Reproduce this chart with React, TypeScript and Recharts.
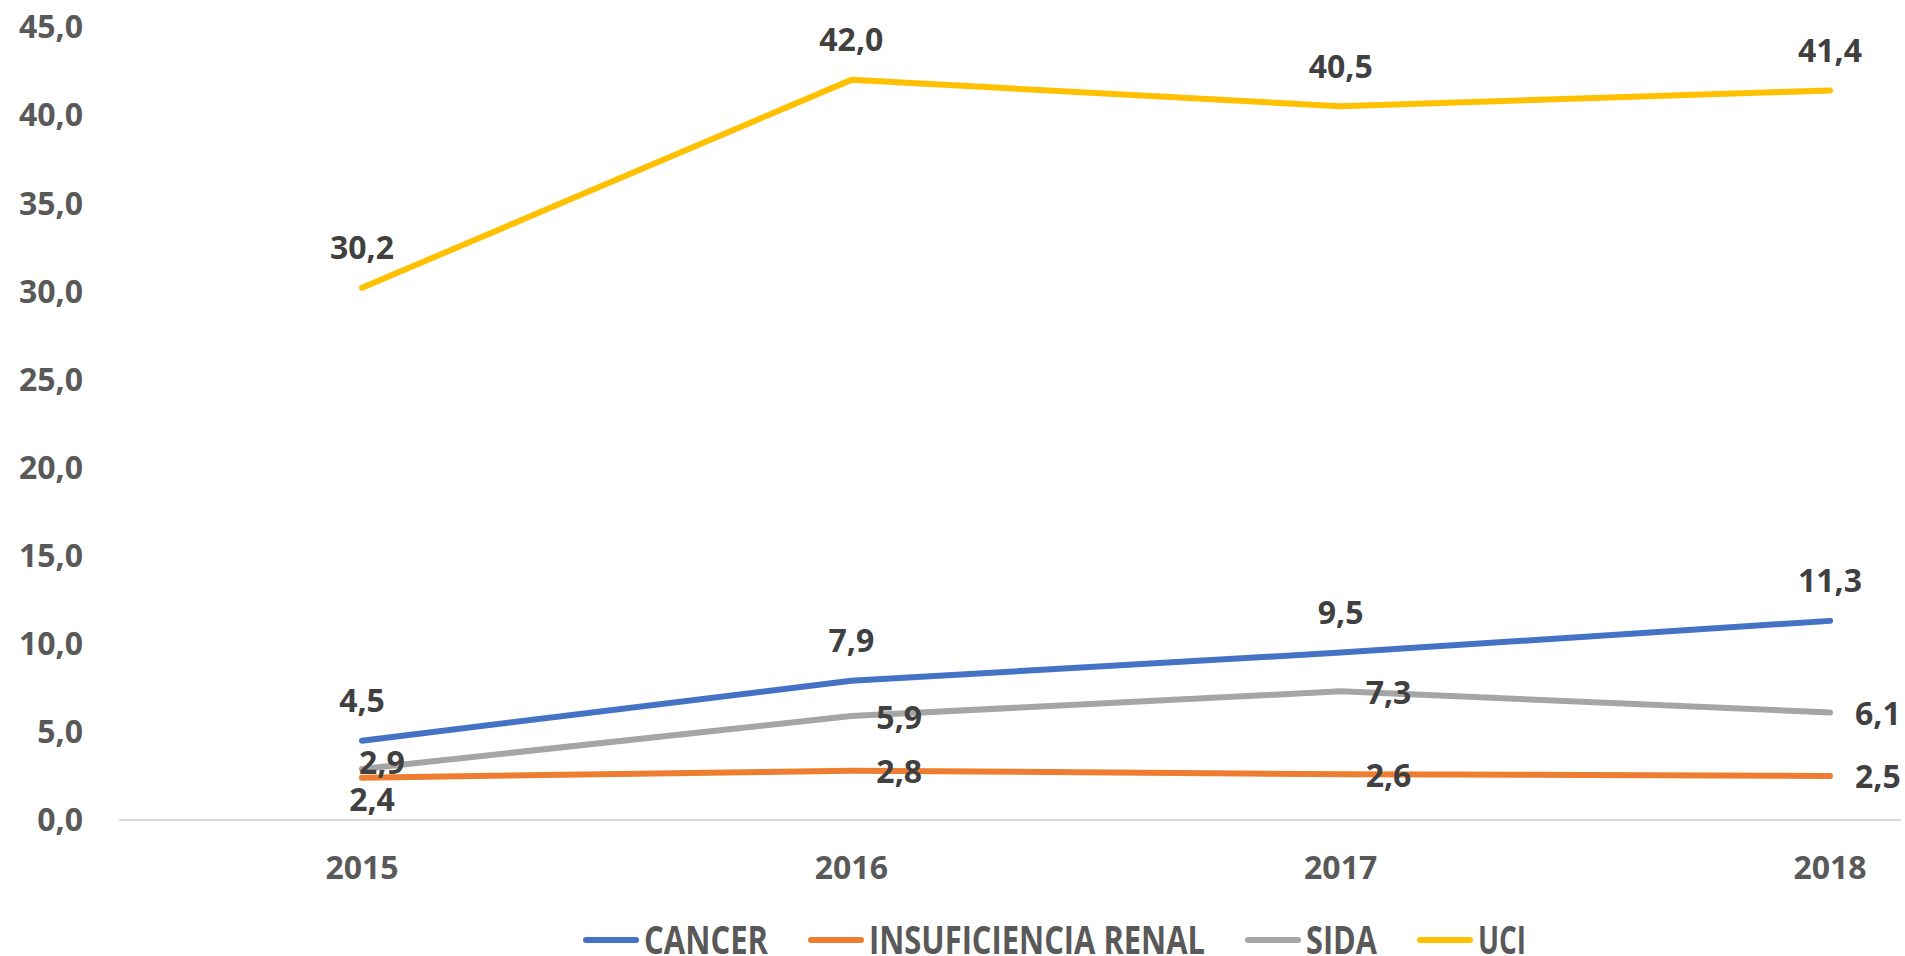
import React from "react";
import { LineChart, Line, XAxis, YAxis, LabelList } from "recharts";

const years = ["2015", "2016", "2017", "2018"];
const cancer = [4.5, 7.9, 9.5, 11.3];
const renal = [2.4, 2.8, 2.6, 2.5];
const sida = [2.9, 5.9, 7.3, 6.1];
const uci = [30.2, 42.0, 40.5, 41.4];
const yTicks = [0, 5, 10, 15, 20, 25, 30, 35, 40, 45];

const seriesNames = ["CANCER", "INSUFICIENCIA RENAL", "SIDA", "UCI"];
const seriesKeys = ["cancer", "renal", "sida", "uci"];
const seriesColors = ["#4472C4", "#ED7D31", "#A5A5A5", "#FFC000"];
const legendTextWidths = [124, 336, 71, 48];

const data = years.map((y, i) => ({
  year: y,
  cancer: cancer[i],
  renal: renal[i],
  sida: sida[i],
  uci: uci[i],
}));

const fmt = (v: number) => Number(v).toFixed(1).replace(".", ",");

const FONT = "'Open Sans', sans-serif";

const makeLabel = (mode: string) => (props: any) => {
  const { x, y, value, index } = props;
  let tx = x;
  let ty = y;
  let anchor: "start" | "middle" | "end" = "middle";
  if (mode === "top") {
    ty = y - 41;
  } else if (mode === "renal") {
    if (index === 0) {
      tx = x + 10;
      ty = y + 21;
    } else {
      tx = x + 25;
      anchor = "start";
    }
  } else if (mode === "sida") {
    if (index === 0) {
      tx = x - 3;
      ty = y - 7;
    } else {
      tx = x + 25;
    }
    anchor = "start";
  }
  return (
    <text
      x={tx}
      y={ty}
      textAnchor={anchor}
      dominantBaseline="central"
      fill="#404040"
      fontFamily={FONT}
      fontWeight={700}
      fontSize={32}
    >
      {fmt(value)}
    </text>
  );
};

function ChartLegend() {
  let cx = 583;
  const items = seriesNames.map((name, i) => {
    const lx = cx;
    const tx = lx + 61;
    cx = tx + legendTextWidths[i] + 40;
    return (
      <g key={name}>
        <line x1={lx + 3} x2={lx + 53} y1={40} y2={40} stroke={seriesColors[i]} strokeWidth={6} strokeLinecap="round" />
        <text
          x={tx}
          y={53.5}
          textLength={legendTextWidths[i]}
          lengthAdjust="spacingAndGlyphs"
          fill="#595959"
          fontFamily={FONT}
          fontWeight={700}
          fontSize={40}
        >
          {name}
        </text>
      </g>
    );
  });
  return (
    <svg width={1905} height={56} style={{ position: "absolute", left: 0, top: 900, display: "block" }}>
      {items}
    </svg>
  );
}

export default function App() {
  return (
    <div style={{ position: "absolute", left: 0, top: 0, width: 1905, height: 956, background: "#fff", overflow: "hidden" }}>
      <LineChart width={1905} height={956} data={data} margin={{ top: 27, right: 4, bottom: 106, left: 0 }}>
        <XAxis
          dataKey="year"
          padding={{ left: 243, right: 71 }}
          axisLine={{ stroke: "#D9D9D9", strokeWidth: 2 }}
          tickLine={false}
          tickSize={0}
          tickMargin={36}
          tick={{ fill: "#595959", fontFamily: FONT, fontWeight: 700, fontSize: 32 }}
        />
        <YAxis
          width={119}
          domain={[0, 45]}
          ticks={yTicks}
          interval={0}
          axisLine={false}
          tickLine={false}
          tickSize={0}
          tickMargin={36}
          tickFormatter={fmt}
          tick={{ fill: "#595959", fontFamily: FONT, fontWeight: 700, fontSize: 32 }}
        />
        {seriesKeys.map((k, i) => (
          <Line
            key={k}
            dataKey={k}
            name={seriesNames[i]}
            stroke={seriesColors[i]}
            strokeWidth={6}
            strokeLinecap="round"
            strokeLinejoin="round"
            dot={false}
            activeDot={false}
            isAnimationActive={false}
          >
            <LabelList
              dataKey={k}
              content={makeLabel(k === "renal" ? "renal" : k === "sida" ? "sida" : "top")}
            />
          </Line>
        ))}
      </LineChart>
      <ChartLegend />
    </div>
  );
}
